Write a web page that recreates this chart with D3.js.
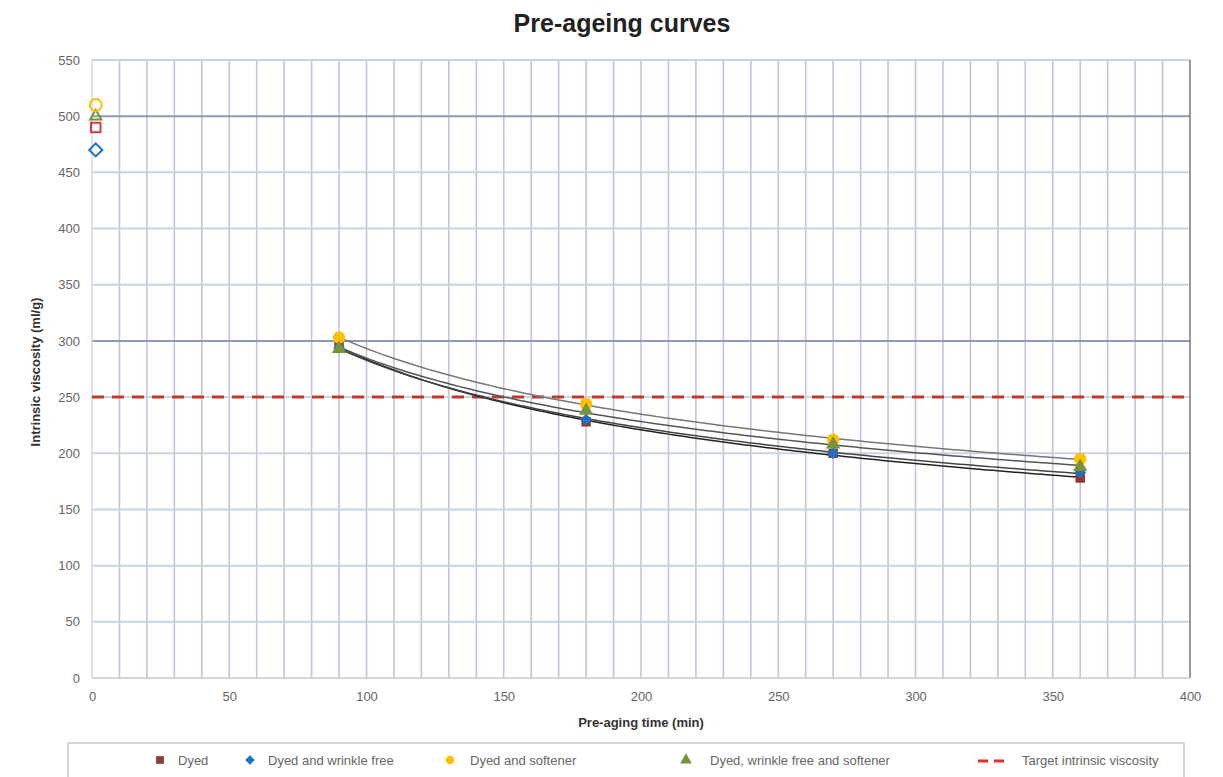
<!DOCTYPE html>
<html><head><meta charset="utf-8">
<script src="https://cdn.jsdelivr.net/npm/d3@7"></script>
<style>body{margin:0;background:#fff;} svg{display:block;}</style>
</head><body>
<svg id="c" width="1223" height="777"></svg>
<script>
const seriesNames = ["Dyed", "Dyed and wrinkle free", "Dyed and softener", "Dyed, wrinkle free and softener"];
const seriesColors = ["#953735", "#2070c0", "#ffc000", "#77933c"];
const seriesSymbols = ["square", "diamond", "circle", "triangle"];
const agingTimes = [90, 180, 270, 360];
const dyedValues = [295, 228, 200, 178];
const wrinkleFreeValues = [294, 230, 200, 183];
const softenerValues = [303, 244, 212, 195];
const wfSoftenerValues = [293, 238, 208, 188];
const initialTime = 1;
const initialValues = [490, 470, 510, 500];
const targetValue = 250;
const targetName = "Target intrinsic viscosity";
const xTicks = [0, 50, 100, 150, 200, 250, 300, 350, 400];
const yTicks = [0, 50, 100, 150, 200, 250, 300, 350, 400, 450, 500, 550];
const allValues = [dyedValues, wrinkleFreeValues, softenerValues, wfSoftenerValues];

const svg = d3.select("#c");
const font = "'Liberation Sans Narrow', 'Liberation Sans', Arial, sans-serif";
const L = 92, R = 1190, T = 60, B = 678;
const x = d3.scaleLinear().domain([0, 400]).range([L, R]);
const y = d3.scaleLinear().domain([0, 550]).range([B, T]);

// vertical grid every 10
const g = svg.append("g");
g.selectAll("line.v").data(d3.range(10, 400, 10)).join("line")
  .attr("x1", d => x(d)).attr("x2", d => x(d)).attr("y1", T).attr("y2", B)
  .attr("stroke", "#bcc8da").attr("stroke-width", 1.6);
g.selectAll("line.h").data(yTicks.filter(d => d > 0)).join("line")
  .attr("x1", L).attr("x2", R).attr("y1", d => y(d)).attr("y2", d => y(d))
  .attr("stroke", d => (d === 500 || d === 300) ? "#8a9ab4" : "#c8d3e3").attr("stroke-width", 2);
// borders
svg.append("line").attr("x1", R).attr("x2", R).attr("y1", T).attr("y2", B).attr("stroke", "#7a7a7a").attr("stroke-width", 1.5);
svg.append("line").attr("x1", L).attr("x2", R).attr("y1", B).attr("y2", B).attr("stroke", "#c8c8c8").attr("stroke-width", 1.5);
svg.append("line").attr("x1", L).attr("x2", L).attr("y1", T).attr("y2", B).attr("stroke", "#d0d8e4").attr("stroke-width", 1.5);

// axes
const xAxis = d3.axisBottom(x).tickValues(xTicks).tickSize(0).tickPadding(14);
const ax = svg.append("g").attr("transform", `translate(0,${B})`).call(xAxis);
const yAxis = d3.axisLeft(y).tickValues(yTicks).tickSize(0).tickPadding(12);
const ay = svg.append("g").attr("transform", `translate(${L},0)`).call(yAxis);
[ax, ay].forEach(a => {
  a.select(".domain").remove();
  a.selectAll("text").attr("fill", "#666").style("font-family", font).style("font-size", "13px");
});

// target line
svg.append("line").attr("x1", x(0)).attr("x2", x(400)).attr("y1", y(targetValue)).attr("y2", y(targetValue))
  .attr("stroke", "#c0392b").attr("stroke-width", 3).attr("stroke-dasharray", "12,8");

// power trendlines (least-squares on log-log)
function powerFit(xs, ys) {
  const lx = xs.map(Math.log), ly = ys.map(Math.log);
  const mx = d3.mean(lx), my = d3.mean(ly);
  const b = d3.sum(lx.map((v, i) => (v - mx) * (ly[i] - my))) / d3.sum(lx.map(v => (v - mx) ** 2));
  const a = Math.exp(my - b * mx);
  return t => a * Math.pow(t, b);
}
const line = d3.line().x(d => x(d[0])).y(d => y(d[1]));
const trendColors = ["#222", "#444", "#777", "#555"];
allValues.forEach((vals, i) => {
  const f = powerFit(agingTimes, vals);
  const pts = d3.range(90, 360.5, 2).map(t => [t, f(t)]);
  svg.append("path").attr("d", line(pts)).attr("fill", "none")
    .attr("stroke", trendColors[i]).attr("stroke-width", 1.5);
});

const symMap = {square: d3.symbolSquare, diamond: d3.symbolSquare, circle: d3.symbolCircle, triangle: d3.symbolTriangle};
const rot = {square: 0, diamond: 45, circle: 0, triangle: 0};
const sizes = {square: 90, diamond: 70, circle: 120, triangle: 90};
const hollowSizes = {square: 90, diamond: 85, circle: 110, triangle: 55};
// filled markers at aging times
allValues.forEach((vals, i) => {
  const s = seriesSymbols[i];
  svg.append("g").selectAll("path").data(agingTimes.map((t, j) => [t, vals[j]])).join("path")
    .attr("transform", d => `translate(${x(d[0])},${y(d[1])}) rotate(${rot[s]})`)
    .attr("d", d3.symbol().type(symMap[s]).size(sizes[s]))
    .attr("fill", seriesColors[i]);
});
// initial hollow markers
const hollowOrder = [3, 0, 1, 2];
hollowOrder.forEach(i => {
  const s = seriesSymbols[i];
  svg.append("path").attr("transform", `translate(${x(initialTime) + 1},${y(initialValues[i])}) rotate(${rot[s]})`)
    .attr("d", d3.symbol().type(symMap[s]).size(hollowSizes[s]))
    .attr("fill", "none").attr("stroke", i === 0 ? "#d04040" : seriesColors[i]).attr("stroke-width", 2);
});

// titles
svg.append("text").attr("x", 622).attr("y", 32).attr("text-anchor", "middle")
  .style("font-family", font).style("font-weight", "bold").style("font-size", "25px").attr("fill", "#222")
  .text("Pre-ageing curves");
svg.append("text").attr("x", 641).attr("y", 727).attr("text-anchor", "middle")
  .style("font-family", font).style("font-weight", "bold").style("font-size", "13px").attr("fill", "#333")
  .text("Pre-aging time (min)");
svg.append("text").attr("transform", `translate(40,372) rotate(-90)`).attr("text-anchor", "middle")
  .style("font-family", font).style("font-weight", "bold").style("font-size", "13px").attr("fill", "#333")
  .text("Intrinsic viscosity (ml/g)");

// legend
svg.append("rect").attr("x", 68).attr("y", 743).attr("width", 1116).attr("height", 40)
  .attr("fill", "#fff").attr("stroke", "#c8c8c8").attr("stroke-width", 1.5);
const legX = [160, 250, 450, 686];
const legTX = [178, 268, 470, 710];
seriesNames.forEach((n, i) => {
  const s = seriesSymbols[i];
  svg.append("path").attr("transform", `translate(${legX[i]},760) rotate(${rot[s]})`)
    .attr("d", d3.symbol().type(symMap[s]).size(s === "diamond" ? 45 : 60)).attr("fill", seriesColors[i]);
  svg.append("text").attr("x", legTX[i]).attr("y", 765).style("font-family", font).style("font-size", "13px")
    .attr("fill", "#666").text(n);
});
svg.append("line").attr("x1", 978).attr("x2", 1008).attr("y1", 761).attr("y2", 761)
  .attr("stroke", "#e03030").attr("stroke-width", 3).attr("stroke-dasharray", "10,6");
svg.append("text").attr("x", 1022).attr("y", 765).style("font-family", font).style("font-size", "13px")
  .attr("fill", "#666").text(targetName);
</script>
</body></html>
